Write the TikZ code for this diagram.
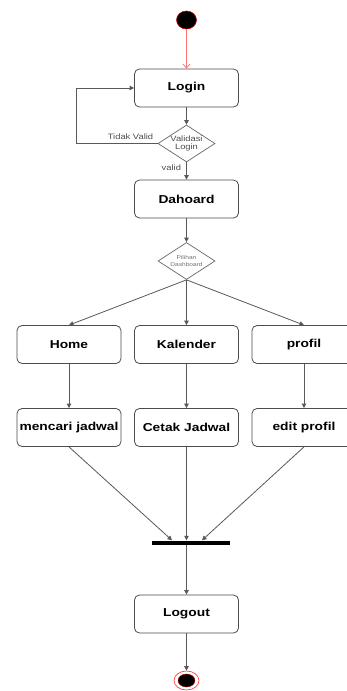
\documentclass[tikz,border=0pt]{standalone}
\usepackage{fontspec}
\setmainfont{Liberation Sans}[FakeStretch=1.2]
\usetikzlibrary{shapes.geometric,arrows.meta}

\tikzset{
  stepbox/.style={draw=black!70, line width=0.8pt, rounded corners=5pt,
    minimum width=104pt, minimum height=38pt, inner sep=0pt,
    font=\bfseries\fontsize{11.5}{12}\selectfont, text=black},
  decision/.style={diamond, draw=black!60, line width=0.7pt, fill=white,
    minimum width=57pt, minimum height=37pt, inner sep=0pt},
  flow/.style={draw=black!65, line width=0.8pt,
    -{Triangle[length=4.5pt,width=4.5pt]}},
  guard/.style={font=\fontsize{7.8}{9}\selectfont, text=black!70},
  startdot/.style={ellipse, fill=black, draw=red!80!black, line width=0.6pt,
    minimum width=20pt, minimum height=18pt, inner sep=0pt},
}

\begin{document}
\begin{tikzpicture}[x=1pt, y=-1pt]
  \clip (0,0) rectangle (347,691);
  \fill[white] (0,0) rectangle (347,691);

  % initial state
  \node[startdot] (start) at (186.5,20) {};

  % login and its check
  \node[stepbox] (login) at (186.5,88) {Login};
  \node[decision] (validasi) at (186.5,143.5)
    [label={[font=\fontsize{7.8}{8.5}\selectfont, text=black!70, align=center]center:Validasi\\Login}] {};
  \node[stepbox] (dash) at (186.5,199) {Dahoard};
  \node[decision] (pilihan) at (186.5,261)
    [label={[font=\fontsize{5.5}{6.5}\selectfont, text=black!55, align=center]center:Pilihan\\Dashboard}] {};

  % menu branches
  \node[stepbox] (home) at (69,344.5) {Home};
  \node[stepbox] (kal) at (186.5,344.5) {Kalender};
  \node[stepbox] (prof) at (304,344.5) {profil};
  \node[stepbox] (cari) at (69,427.5) {mencari jadwal};
  \node[stepbox] (cetak) at (186.5,427.5) {Cetak Jadwal};
  \node[stepbox] (edit) at (304,427.5) {edit profil};

  % join bar
  \node[fill=black, minimum width=78pt, minimum height=4pt, inner sep=0pt] (bar) at (191,542.5) {};

  \node[stepbox] (logout) at (186.5,614) {Logout};

  % final state
  \node[ellipse, draw=red!75, line width=0.7pt, fill=white,
        minimum width=25pt, minimum height=19pt, inner sep=0pt] (endring) at (186.5,680.5) {};
  \node[ellipse, fill=black, draw=red!70!black, line width=0.4pt,
        minimum width=17pt, minimum height=13pt, inner sep=0pt] (enddot) at (186.5,680.5) {};

  % connectors
  \draw[draw=red!55, line width=0.8pt, -{Straight Barb[length=4pt,width=7pt]}] (start) -- (login);
  \draw[flow] (login) -- (validasi);
  \draw[flow] (validasi.west) -- ++(-81,0) |- (login.west);
  \node[guard, anchor=south east] (tv) at ([xshift=-1pt]validasi.west) {Tidak Valid};
  \draw[flow] (validasi) -- (dash);
  \node[guard, anchor=south east] (vl) at ([xshift=-2pt, yshift=-12pt]validasi.south) {valid};
  \draw[flow] (dash) -- (pilihan);
  \draw[flow] (pilihan.south) -- (home.north);
  \draw[flow] (pilihan.south) -- (kal.north);
  \draw[flow] (pilihan.south) -- (prof.north);
  \draw[flow] (home) -- (cari);
  \draw[flow] (kal) -- (cetak);
  \draw[flow] (prof) -- (edit);
  \draw[flow] (cari.south) -- ([xshift=-19pt]bar.north);
  \draw[flow] (cetak.south) -- ([xshift=-4.5pt]bar.north);
  \draw[flow] (edit.south) -- ([xshift=11pt]bar.north);
  \draw[flow] ([xshift=-4.5pt]bar.south) -- (logout.north);
  \draw[flow] (logout) -- (endring);
\end{tikzpicture}
\end{document}
